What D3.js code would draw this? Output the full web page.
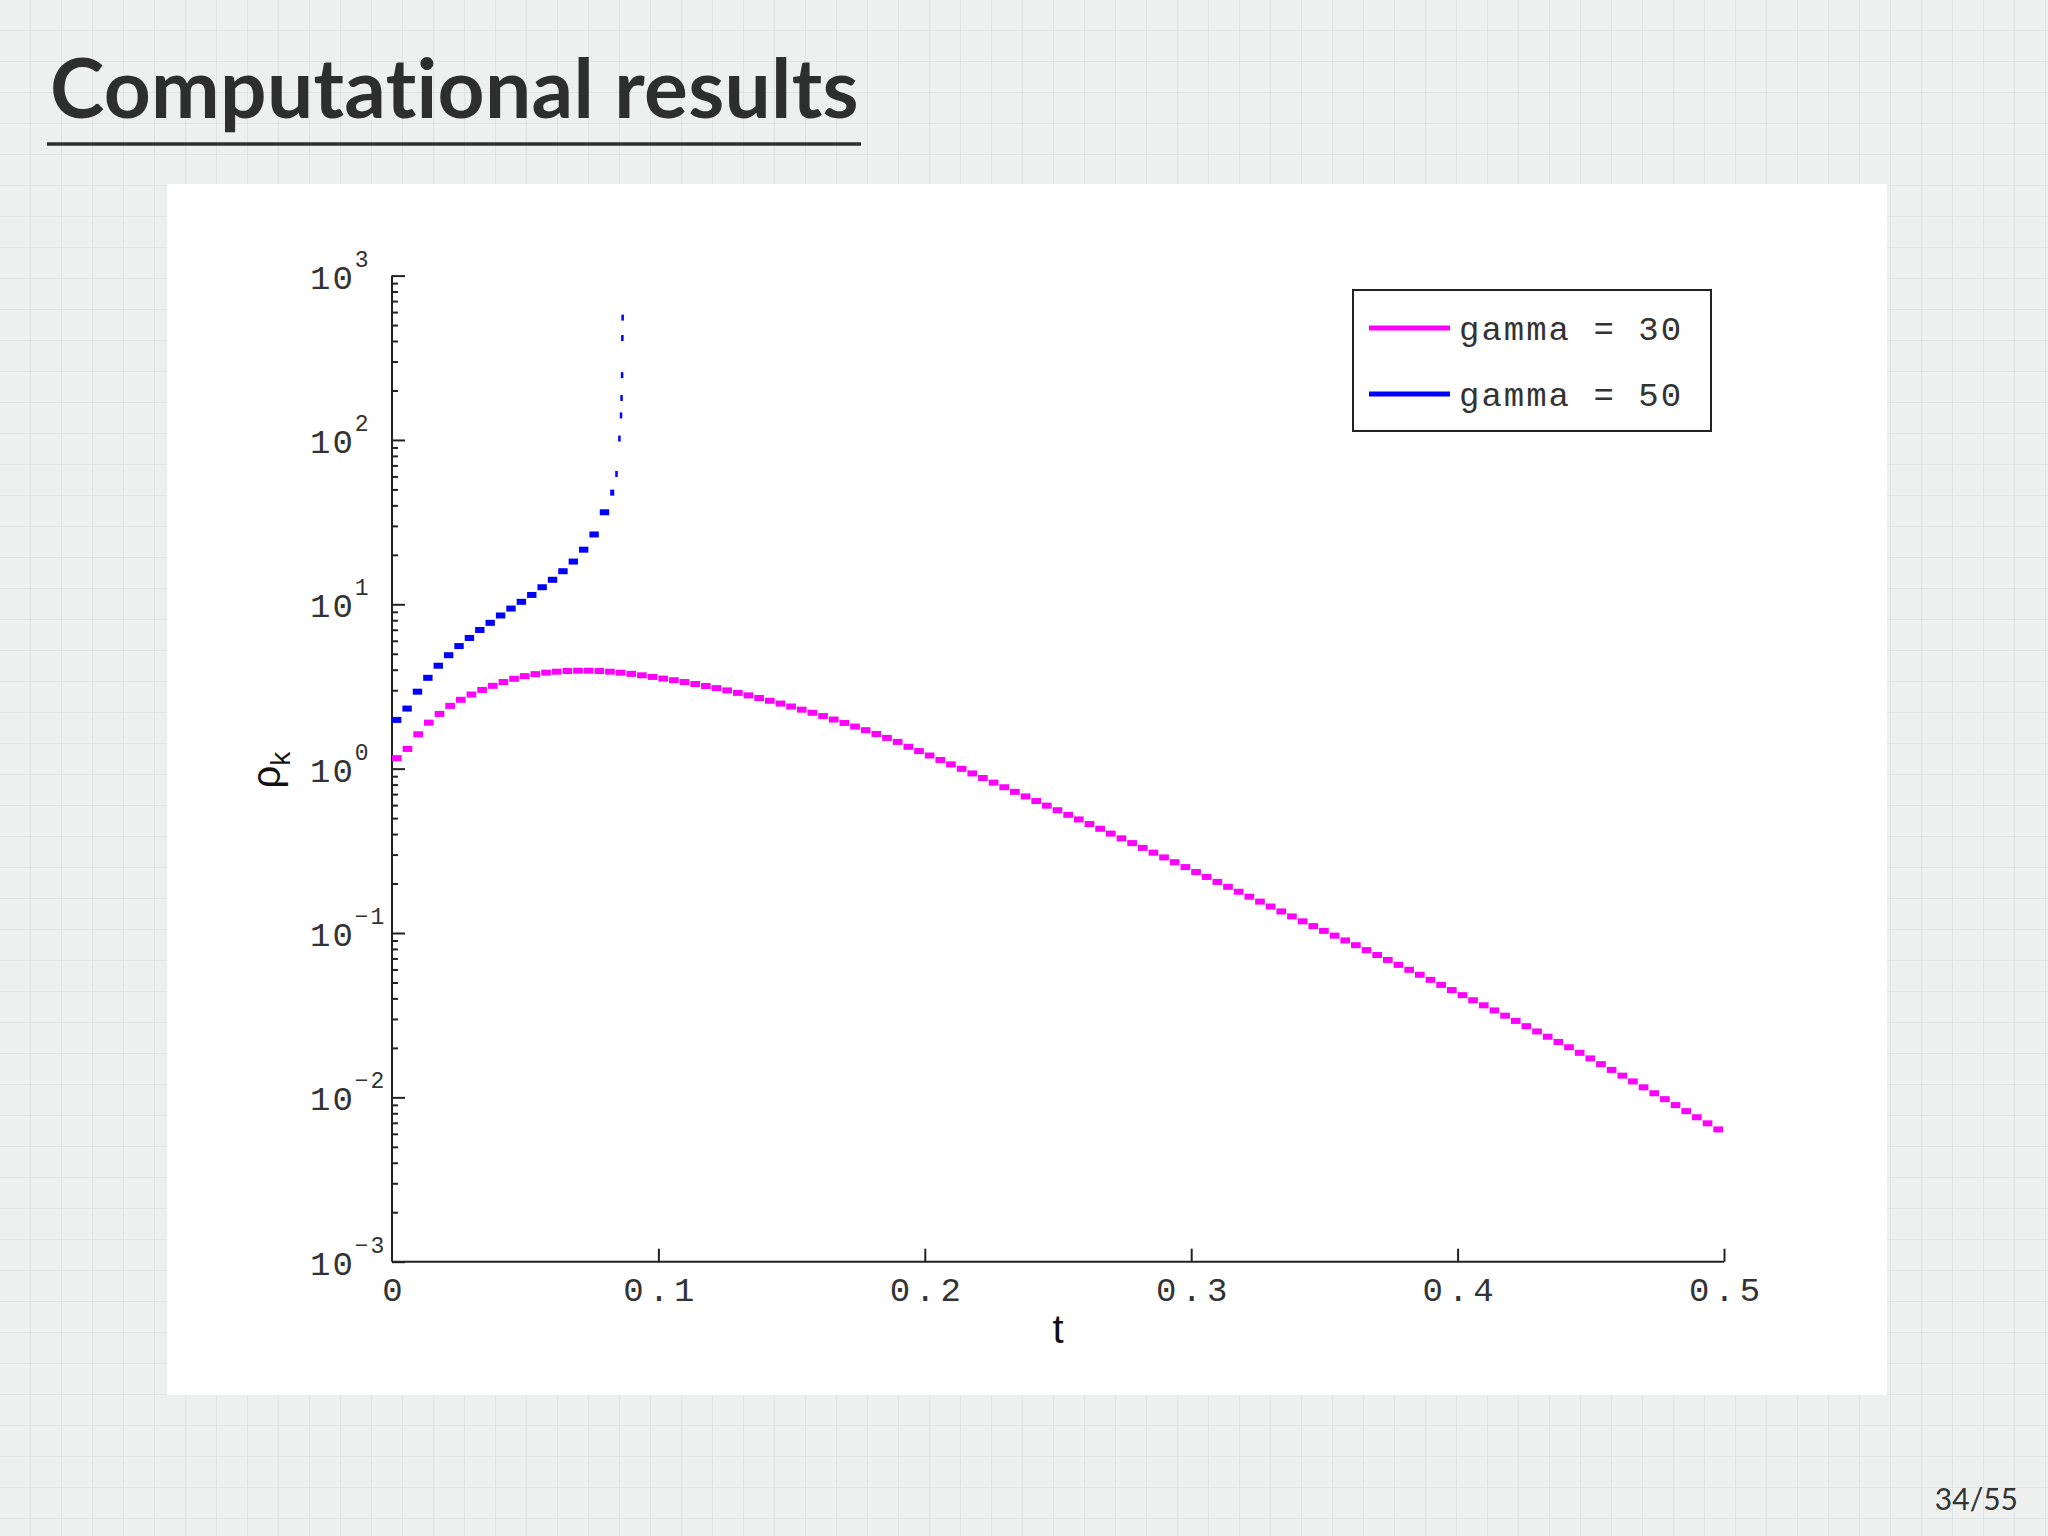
<!DOCTYPE html>
<html><head><meta charset="utf-8">
<script src="https://cdn.jsdelivr.net/npm/d3@7"></script>
<style>body{margin:0;background:#eef0f0;}svg{display:block}</style>
</head><body>
<svg id="c" width="2048" height="1536"></svg>
<script>
// ---- data ----
const titleText = "Computational results";
const pageText = "34/55";
const xTicks = [0, 0.1, 0.2, 0.3, 0.4, 0.5];
const xTickLabels = ["0", "0.1", "0.2", "0.3", "0.4", "0.5"];
const yExponents = [-3, -2, -1, 0, 1, 2, 3];
const seriesNames = ["gamma = 30", "gamma = 50"];
const seriesColors = ["#ff00ff", "#0000ff"];
const gamma30Dt = 0.004;
const gamma30Log10 = [0.064,0.120,0.209,0.280,0.333,0.382,0.419,0.451,0.479,0.504,0.527,0.547,0.563,0.575,0.584,0.590,0.594,0.596,0.596,0.594,0.590,0.584,0.577,0.568,0.558,
0.548,0.538,0.527,0.515,0.503,0.490,0.476,0.461,0.446,0.430,0.413,0.396,0.378,
0.359,0.340,0.320,0.299,0.278,0.256,0.234,0.211,0.187,0.163,0.133,0.107,
0.080,0.053,0.026,-0.001,-0.029,-0.057,-0.085,-0.113,-0.141,-0.169,-0.197,-0.225,
-0.253,-0.281,-0.309,-0.337,-0.366,-0.395,-0.424,-0.453,-0.482,-0.511,-0.540,-0.569,
-0.599,-0.629,-0.659,-0.689,-0.719,-0.749,-0.779,-0.809,-0.839,-0.869,-0.899,-0.929,
-0.958,-0.987,-1.016,-1.045,-1.074,-1.104,-1.134,-1.164,-1.194,-1.224,-1.254,-1.285,-1.316,
-1.347,-1.378,-1.409,-1.440,-1.471,-1.503,-1.535,-1.567,-1.599,-1.631,-1.663,-1.695,
-1.729,-1.763,-1.798,-1.833,-1.868,-1.903,-1.939,-1.975,-2.011,-2.047,-2.084,-2.121,-2.158,-2.195];
const gamma50T = [0,0.0039,0.0078,0.0117,0.0156,0.0195,0.0234,0.0273,0.0312,0.0351,0.039,0.0429,0.0468,0.0507,0.0546,0.0585,0.0624,0.0663,0.0702,0.0741,0.078,0.0819,0.0838,0.0849,0.0855,0.0857,0.0859,0.0860,0.0861,0.0862];
const gamma50Rho = [1.98,2.32,2.94,3.57,4.23,4.90,5.57,6.24,6.98,7.71,8.55,9.42,10.35,11.4,12.7,14.1,15.9,18.2,21.5,26.6,36.3,47.8,62.1,102,141,180,248,417,555];

// ---- drawing ----
const svg = d3.select("#c");
const defs = svg.append("defs");
const pat = defs.append("pattern").attr("id","grid").attr("width",31).attr("height",31).attr("patternUnits","userSpaceOnUse");
pat.append("rect").attr("width",31).attr("height",31).attr("fill","#eef0f0");
pat.append("path").attr("d","M31 0V31M0 31H31").attr("stroke","#dde1e1").attr("stroke-width",1.5).attr("fill","none");
svg.append("rect").attr("width",2048).attr("height",1536).attr("fill","url(#grid)");

svg.append("text").attr("x",50).attr("y",118).text(titleText)
  .attr("font-family","Lato, 'Open Sans', sans-serif").attr("font-weight",700).attr("font-size",82)
  .attr("letter-spacing",0.3).style("font-variant-ligatures","none").attr("fill","#2e2e2e");
svg.append("line").attr("x1",47).attr("x2",861).attr("y1",144).attr("y2",144).attr("stroke","#2e2e2e").attr("stroke-width",3.5);
svg.append("text").attr("x",2018).attr("y",1510).attr("text-anchor","end").text(pageText)
  .attr("font-family","Lato, sans-serif").attr("font-size",30).attr("fill","#333");

svg.append("rect").attr("x",167).attr("y",184).attr("width",1720).attr("height",1211).attr("fill","#fff");

const x = d3.scaleLinear().domain([0,0.5]).range([392,1724]);
const y = d3.scaleLog().domain([1e-3,1e3]).range([1261.7,275.6]);
const mono = "'Liberation Mono', 'DejaVu Sans Mono', monospace";
const g = svg.append("g");

// y axis with minor ticks pointing inward
const yAxis = d3.axisRight(y).tickValues(y.ticks()).tickFormat("").tickSize(0);
const ya = g.append("g").attr("transform","translate(392,0)").call(yAxis);
ya.select(".domain").remove();
ya.selectAll(".tick line").attr("x2", d => Math.abs(Math.log10(d)-Math.round(Math.log10(d)))<1e-6 ? 13 : 6)
  .attr("stroke","#222").attr("stroke-width",2);
g.append("line").attr("x1",392).attr("x2",392).attr("y1",275.6).attr("y2",1261.7).attr("stroke","#222").attr("stroke-width",2);
// y labels
yExponents.forEach(e => {
  const yy = y(Math.pow(10,e));
  const t = g.append("text").attr("x",310).attr("y",yy+13).attr("text-anchor","start")
    .attr("font-family",mono).attr("font-size",34).attr("fill","#333").attr("letter-spacing",2);
  t.append("tspan").text("10");
  t.append("tspan").attr("dy",-22).attr("font-size",23).text(String(e).replace("-","\u2212"));
});
// x axis
const xAxis = d3.axisTop(x).tickValues(xTicks.slice(1)).tickFormat("").tickSize(13);
const xa = g.append("g").attr("transform","translate(0,1261.7)").call(xAxis);
xa.select(".domain").remove();
xa.selectAll(".tick line").attr("stroke","#222").attr("stroke-width",2);
g.append("line").attr("x1",392).attr("x2",1724).attr("y1",1261.7).attr("y2",1261.7).attr("stroke","#222").attr("stroke-width",2);
xTicks.forEach((v,i) => {
  g.append("text").attr("x",x(v)+3).attr("y",1301).attr("text-anchor","middle")
   .attr("font-family",mono).attr("font-size",34).attr("fill","#333").attr("letter-spacing",5).text(xTickLabels[i]);
});
g.append("text").attr("x",1058).attr("y",1343).attr("text-anchor","middle")
  .attr("font-family","'Liberation Sans', Arial, sans-serif").attr("font-size",40).attr("fill","#111").text("t");
const yl = g.append("text").attr("transform","translate(280,770) rotate(-90)").attr("text-anchor","middle")
  .attr("font-family","'Liberation Sans', Arial, sans-serif").attr("font-size",40).attr("fill","#111");
yl.append("tspan").text("ρ");
yl.append("tspan").attr("dy",10).attr("font-size",28).text("k");

// stairs as horizontal dashes
const h = 6;
const d30 = gamma30Log10.map((v,i)=>({t0:i*gamma30Dt, t1:(i+1)*gamma30Dt, v:Math.pow(10,v)}));
g.selectAll(".m").data(d30).enter().append("rect")
  .attr("x",d=>x(d.t0)).attr("width",d=>Math.max(2,x(d.t1)-x(d.t0)-1))
  .attr("y",d=>y(d.v)-h/2).attr("height",h).attr("fill",seriesColors[0]);
const d50 = gamma50Rho.map((v,i)=>({t0:gamma50T[i], t1:gamma50T[i+1], v}));
g.selectAll(".b").data(d50).enter().append("rect")
  .attr("x",d=>x(d.t0)).attr("width",d=>Math.max(2.5,x(d.t1)-x(d.t0)-1))
  .attr("y",d=>y(d.v)-h/2).attr("height",h).attr("fill",seriesColors[1]);

// legend
const lg = g.append("g");
lg.append("rect").attr("x",1353).attr("y",290).attr("width",358).attr("height",141).attr("fill","#fff").attr("stroke","#222").attr("stroke-width",2);
seriesNames.forEach((n,i) => {
  const yy = 328 + i*66;
  lg.append("line").attr("x1",1369).attr("x2",1450).attr("y1",yy).attr("y2",yy).attr("stroke",seriesColors[i]).attr("stroke-width",5);
  lg.append("text").attr("x",1459).attr("y",yy+12).attr("font-family",mono).attr("font-size",34)
    .attr("letter-spacing",2).attr("fill","#333").style("white-space","pre").text(n);
});
</script>
</body></html>
